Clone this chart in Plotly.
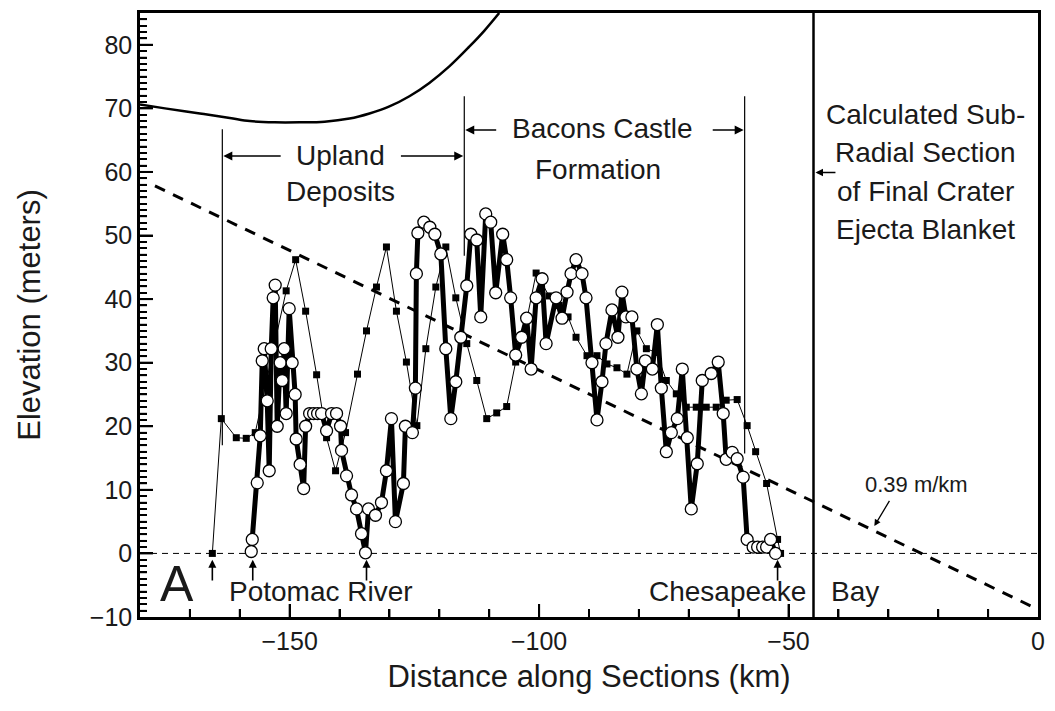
import plotly.graph_objects as go

# ---------------- data ----------------
# Series 1: thin line with filled squares
s1_x = [-165.5, -163.7, -160.7, -158.7, -156.9, -150.7, -148.8, -146.8, -144.6, -142.6,
        -140.8, -138.8, -136.4, -134.6, -132.6, -130.6, -128.6, -126.6, -124.5, -122.7,
        -120.7, -118.7, -116.7, -114.5, -112.5, -110.5, -108.5, -106.5, -104.7, -102.4,
        -100.6, -98.0, -96.0, -94.2, -92.6, -90.4, -88.4, -86.4, -84.4, -82.4,
        -80.4, -78.5, -76.5, -74.5, -72.5, -70.5, -68.5, -66.5, -64.5, -62.5,
        -60.3, -58.3, -56.6, -54.4, -52.2, -51.6]
s1_y = [0, 21.2, 18.2, 18.1, 19.0, 41.3, 46.2, 38.1, 28.1, 18.2,
        13.0, 19.0, 28.2, 35.0, 41.9, 48.2, 38.1, 30.1, 20.1, 32.2,
        41.9, 48.2, 40.2, 33.0, 27.2, 21.2, 22.1, 23.1, 30.1, 37.0,
        44.1, 40.5, 39.0, 37.2, 34.0, 31.1, 31.1, 29.8, 29.2, 28.2,
        35.0, 32.2, 31.6, 27.2, 25.1, 23.0, 23.0, 23.0, 23.0, 24.1,
        24.2, 20.1, 16.0, 11.0, 2.2, 0]

# Series 2: thick line with open circles
s2_x = [-157.7, -157.5, -156.5, -155.9, -155.5, -155.1, -154.5, -154.1, -153.7, -153.3,
        -152.9, -152.5, -151.9, -151.5, -151.1, -150.7, -150.1, -149.5, -148.9, -148.7,
        -147.9, -147.2, -146.8, -146.0, -145.2, -144.4, -143.6, -142.6, -141.6, -140.6,
        -139.8, -139.6, -138.6, -137.6, -136.6, -135.6, -134.8, -134.2, -132.8, -131.6,
        -130.6, -129.6, -128.8, -127.2, -126.8, -125.4, -124.8, -124.6, -124.3, -123.1,
        -121.9, -120.9, -119.7, -118.7, -117.7, -116.7, -115.7, -114.5, -113.7, -112.5,
        -111.7, -110.7, -109.7, -108.7, -107.3, -106.5, -105.7, -104.7, -103.5, -102.5,
        -101.6, -100.6, -99.4, -98.6, -96.6, -95.4, -94.4, -93.6, -92.6, -91.4,
        -90.6, -89.4, -88.4, -87.4, -86.6, -85.4, -84.2, -83.4, -82.6, -81.4,
        -80.4, -79.5, -78.7, -77.3, -76.3, -75.5, -74.5, -73.5, -72.3, -71.3,
        -70.3, -69.5, -68.3, -67.3, -65.5, -64.1, -63.1, -62.5, -61.3, -60.3,
        -59.1, -58.3, -57.1, -56.2, -55.2, -54.4, -53.6, -52.6]
s2_y = [0.3, 2.2, 11.1, 18.5, 30.3, 32.2, 24.0, 13.0, 32.2, 40.2,
        42.2, 20.0, 30.0, 27.2, 32.2, 22.0, 38.5, 30.0, 25.0, 18.0,
        14.0, 10.2, 20.0, 22.0, 22.0, 22.0, 22.0, 19.3, 22.0, 22.0,
        20.0, 16.2, 12.2, 9.2, 7.0, 3.1, 0.1, 7.0, 6.0, 8.0,
        13.0, 21.2, 5.0, 11.0, 20.0, 19.0, 26.0, 44.0, 50.4, 52.1,
        51.3, 50.2, 47.1, 32.2, 21.2, 27.0, 34.0, 42.1, 50.2, 49.3,
        37.2, 53.4, 52.1, 41.0, 50.2, 46.2, 40.2, 31.2, 34.0, 37.0,
        29.0, 40.2, 43.2, 33.0, 40.2, 37.0, 41.1, 44.0, 46.2, 44.0,
        40.2, 30.0, 21.0, 27.0, 33.0, 38.3, 34.0, 41.1, 37.2, 37.2,
        29.0, 25.1, 30.3, 29.0, 36.0, 26.0, 16.0, 19.0, 21.2, 29.0,
        18.2, 7.0, 14.1, 27.2, 28.3, 30.1, 22.0, 14.8, 15.9, 14.9,
        12.0, 2.2, 1.0, 1.0, 1.0, 1.0, 2.2, 0]

# Upper curve (calculated sub-radial section)
curve_x = [-180, -175, -168, -162, -158, -153, -148, -143, -138, -134, -130, -126, -122, -118, -114, -111, -108]
curve_y = [70.6, 70.0, 69.2, 68.5, 68.0, 67.8, 67.8, 67.9, 68.4, 69.2, 70.3, 71.9, 74.0, 76.6, 79.7, 82.2, 85.0]

# Regional gradient line (0.39 m/km)
grad_x = [-177, 0]
grad_y = [57.8, -8.8]

# Zero datum
zero_x = [-180, 0]
zero_y = [0, 0]

# Boundary markers
bound_x = [-163.5, -115.0, -58.8]
bound_top = [66.7, 71.9, 71.9]
bound_bot = [17.0, 46.8, 15.7]
crater_edge_x = -45.0

# Location arrows (x positions)
loc_x = [-165.5, -157.4, -134.6, -52.2]

x_range = [-180, 0]
y_range = [-10, 85]
x_tick_step, x_minor_step = 50, 10
y_tick_step, y_minor_step = 10, 1

FONT = "Liberation Sans, Arial, sans-serif"
TXT = "#1a1a1a"

fig = go.Figure()

fig.add_trace(go.Scatter(x=zero_x, y=zero_y, mode="lines",
                         line=dict(color="black", width=1, dash="6px,5px"), hoverinfo="skip"))
fig.add_trace(go.Scatter(x=grad_x, y=grad_y, mode="lines",
                         line=dict(color="black", width=3, dash="11px,9px"), hoverinfo="skip"))
fig.add_trace(go.Scatter(x=curve_x, y=curve_y, mode="lines", line_shape="spline",
                         line=dict(color="black", width=2.5), hoverinfo="skip"))
fig.add_trace(go.Scatter(x=s1_x, y=s1_y, mode="lines+markers",
                         line=dict(color="black", width=1),
                         marker=dict(symbol="square", size=7, color="black")))
fig.add_trace(go.Scatter(x=s2_x, y=s2_y, mode="lines+markers",
                         line=dict(color="black", width=5),
                         marker=dict(symbol="circle", size=12, color="white",
                                     line=dict(color="black", width=1.3))))

shapes = []
for bx, bt, bb in zip(bound_x, bound_top, bound_bot):
    shapes.append(dict(type="line", xref="x", yref="y", x0=bx, x1=bx, y0=bb, y1=bt,
                       line=dict(color="black", width=1.2)))
shapes.append(dict(type="line", xref="x", yref="paper", x0=crater_edge_x, x1=crater_edge_x,
                   y0=0, y1=1, line=dict(color="black", width=2.5)))

# inside tick marks on the axes' own scales (backup for the axis ticks)
PLOT_W = 1055 - 140 - 11
PLOT_H = 711 - 10 - 94
for v in range(x_range[0] + x_minor_step, x_range[1], x_minor_step):
    major = (v % x_tick_step == 0)
    ln = (13 if major else 8) / PLOT_H
    shapes.append(dict(type="line", xref="x", yref="paper", x0=v, x1=v, y0=0, y1=ln,
                       layer="above", line=dict(color="black", width=2)))
for v in range(y_range[0] + y_minor_step, y_range[1], y_minor_step):
    major = (v % y_tick_step == 0)
    ln = (13 if major else 7) / PLOT_W
    shapes.append(dict(type="line", xref="paper", yref="y", x0=0, x1=ln, y0=v, y1=v,
                       layer="above", line=dict(color="black", width=2 if major else 1.5)))

ann = []
def arrow(x_head, y_head, x_tail, y_tail, size=1.2, width=1.5):
    ann.append(dict(x=x_head, y=y_head, ax=x_tail, ay=y_tail, xref="x", yref="y",
                    axref="x", ayref="y", text="", showarrow=True, arrowhead=2,
                    arrowsize=size, arrowwidth=width, arrowcolor="black"))

def label(x, y, t, size=28, xanchor="center"):
    ann.append(dict(x=x, y=y, xref="x", yref="y", text=t, showarrow=False,
                    xanchor=xanchor, yanchor="middle",
                    font=dict(family=FONT, size=size, color=TXT)))

# Upland deposits
arrow(-163.3, 62.5, -151.5, 62.5)
arrow(-115.2, 62.5, -128.0, 62.5)
label(-139.8, 62.6, "Upland")
label(-139.8, 57.0, "Deposits")
# Bacons Castle
arrow(-114.8, 66.6, -108.3, 66.6)
arrow(-59.0, 66.6, -65.5, 66.6)
label(-87.2, 66.8, "Bacons Castle")
label(-88.2, 60.4, "Formation")
# crater text
for yy, t in zip([69.0, 63.0, 56.9, 50.9],
                 ["Calculated Sub-", "Radial Section", "of Final Crater", "Ejecta Blanket"]):
    label(-22.6, yy, t)
arrow(-44.6, 59.9, -40.3, 59.9, size=1.0)
# location arrows
for lx in loc_x:
    arrow(lx, -1.0, lx, -4.5, size=1.0, width=1.6)
label(-172.6, -4.8, "A", size=50)
label(-162.5, -6.0, "Potomac River", xanchor="left")
label(-46.2, -6.0, "Chesapeake", xanchor="right")
label(-41.9, -6.0, "Bay", xanchor="left")
# gradient label
label(-24.3, 10.9, "0.39 m/km", size=22)
arrow(-32.8, 4.3, -29.6, 8.5, size=1.0, width=1.3)

fig.update_layout(
    width=1055, height=711,
    margin=dict(l=140, r=11, t=10, b=94),
    paper_bgcolor="white", plot_bgcolor="white",
    showlegend=False,
    shapes=shapes, annotations=ann,
    font=dict(family=FONT, color=TXT),
)
fig.update_xaxes(range=x_range, dtick=x_tick_step,
                 ticks="inside", ticklen=13, tickwidth=2, tickcolor="black",
                 minor=dict(ticks="inside", dtick=x_minor_step, ticklen=8, tickwidth=2,
                            tickcolor="black"),
                 showgrid=False, zeroline=False,
                 showline=True, linecolor="black", linewidth=2.5, mirror=True,
                 tickfont=dict(size=25, family=FONT, color=TXT),
                 title=dict(text="Distance along Sections (km)", font=dict(size=31, family=FONT, color=TXT),
                            standoff=12))
fig.update_yaxes(range=y_range, dtick=y_tick_step,
                 ticks="inside", ticklen=13, tickwidth=2, tickcolor="black",
                 minor=dict(ticks="inside", dtick=y_minor_step, ticklen=7, tickwidth=1.5,
                            tickcolor="black"),
                 showgrid=False, zeroline=False,
                 showline=True, linecolor="black", linewidth=2.5, mirror=True,
                 tickfont=dict(size=25, family=FONT, color=TXT),
                 title=dict(text="Elevation (meters)", font=dict(size=31, family=FONT, color=TXT),
                            standoff=40))

fig.write_html("out.html")
